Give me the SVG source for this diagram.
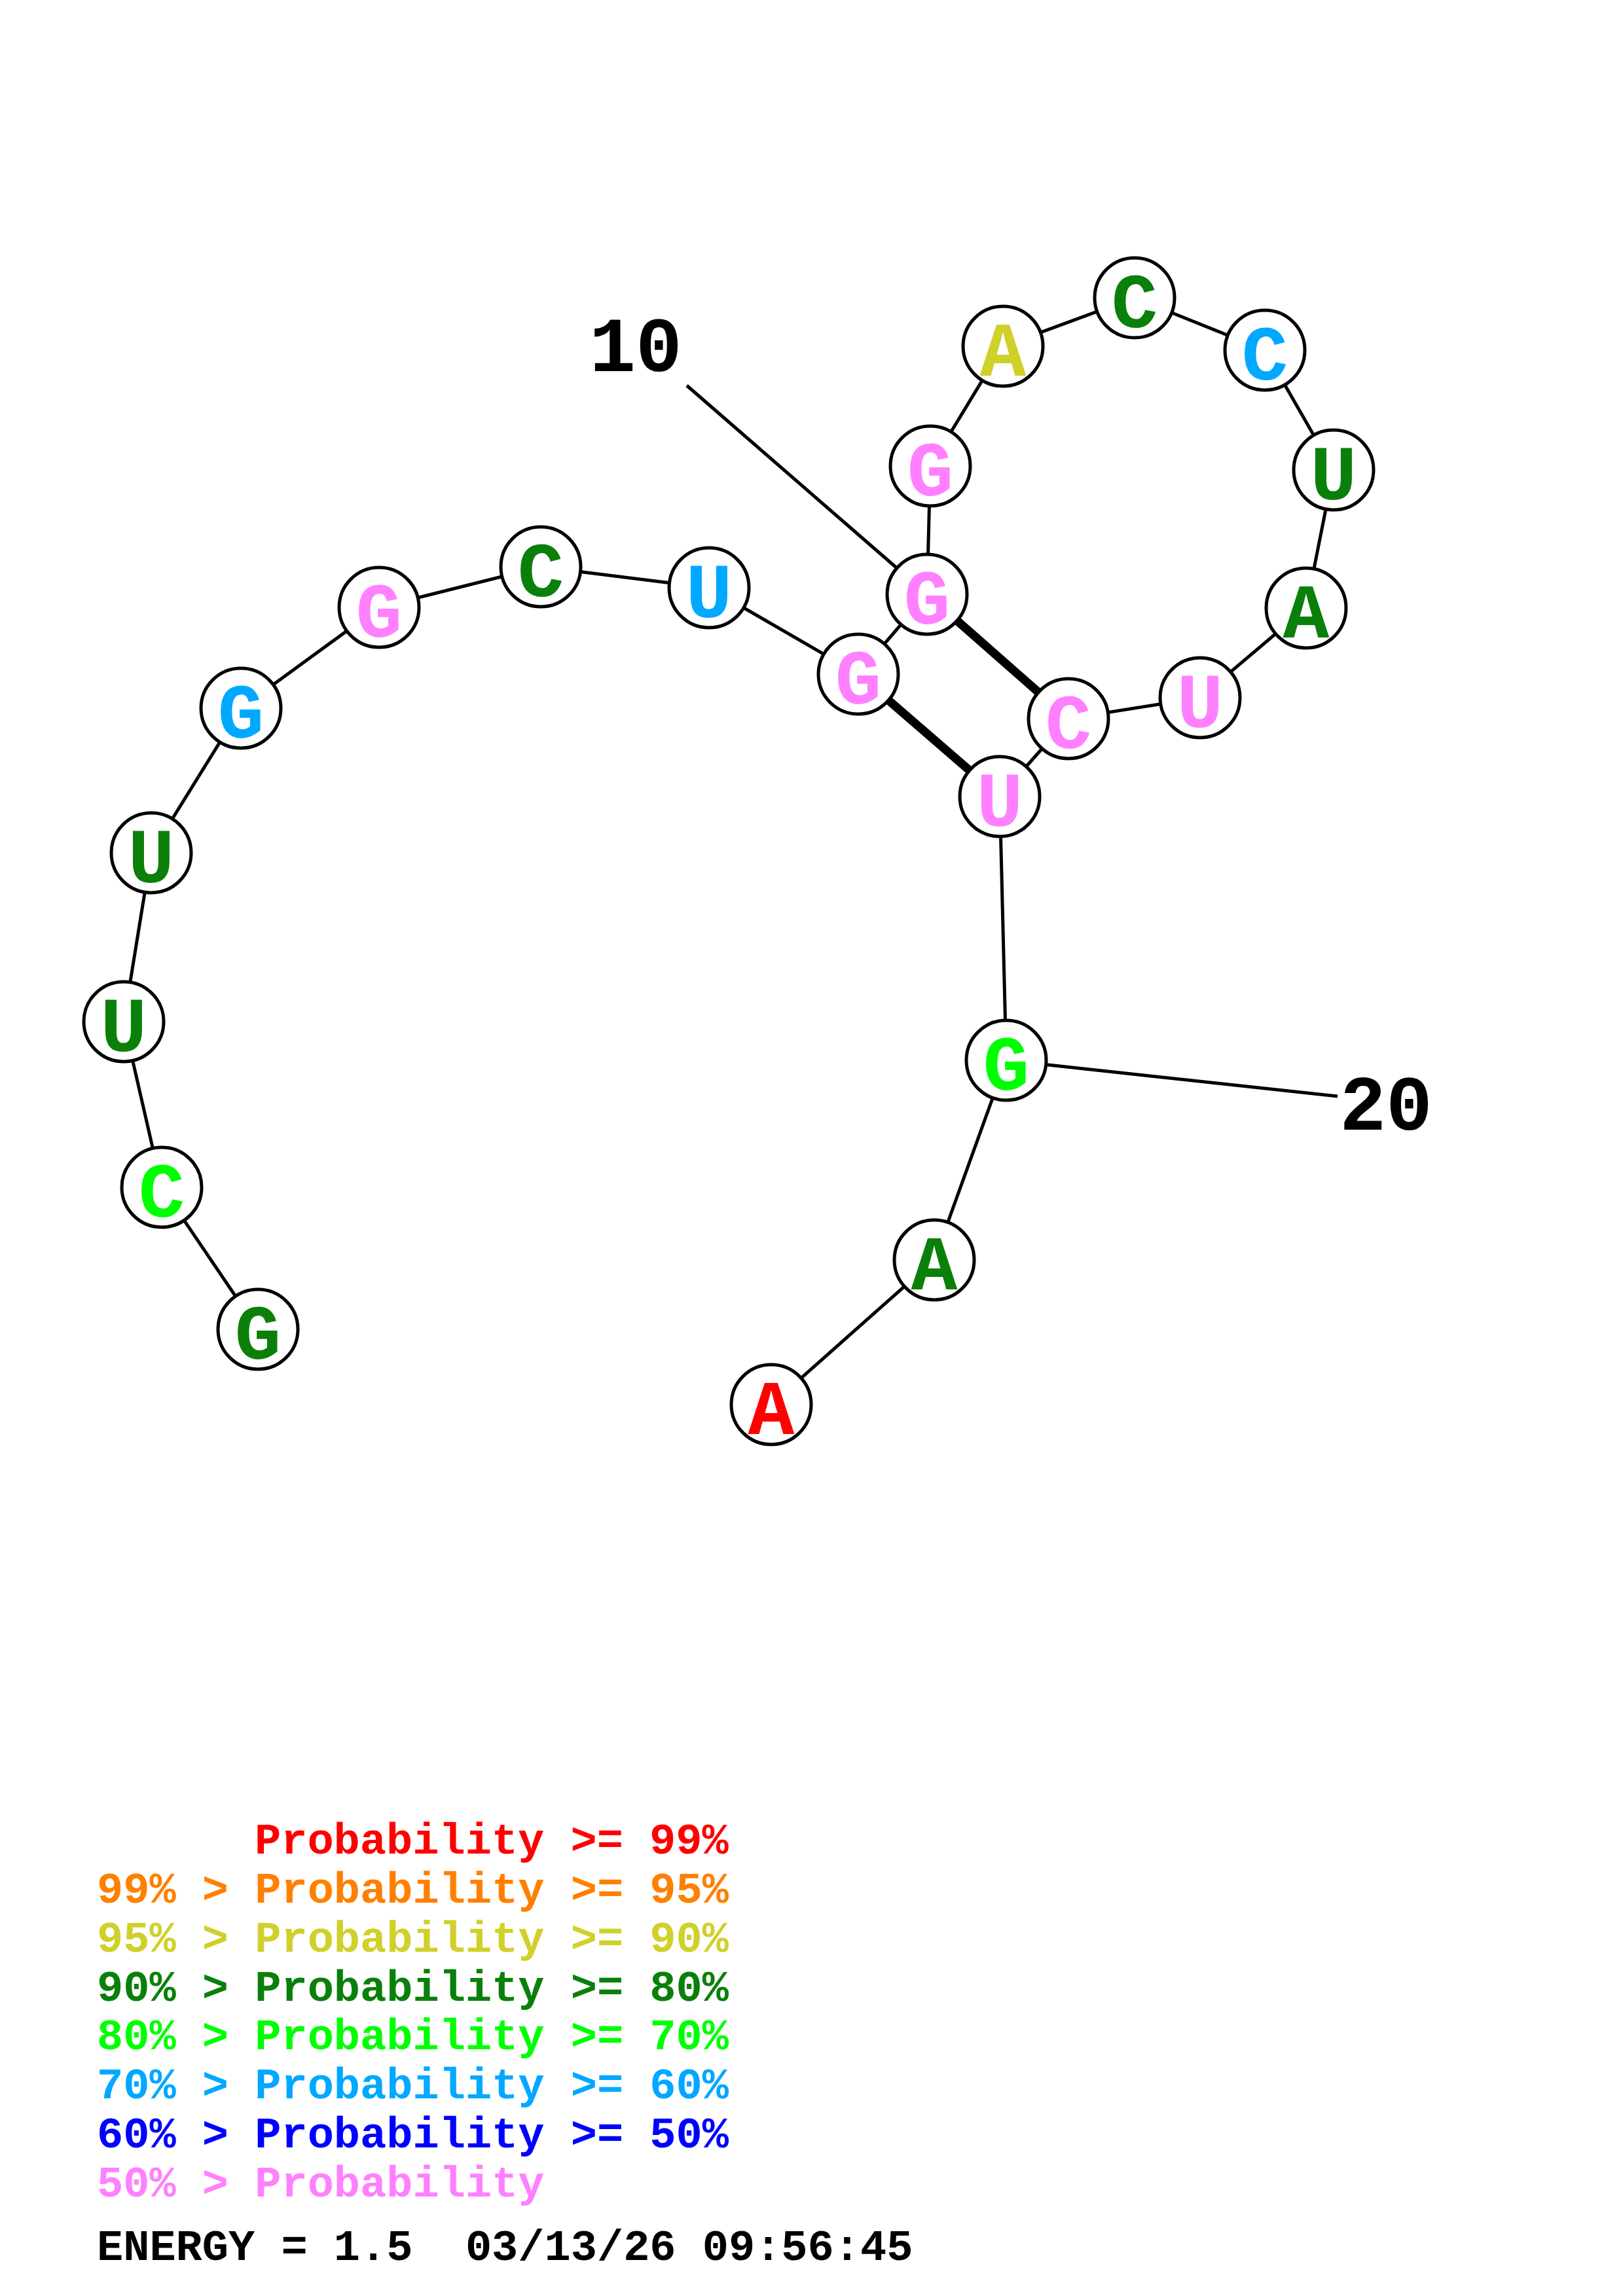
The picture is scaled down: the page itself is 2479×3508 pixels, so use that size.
<svg xmlns="http://www.w3.org/2000/svg" width="2479" height="3508" viewBox="0 0 2479 3508">
<style>
.bb{stroke:#000;stroke-width:5;fill:none}
.pr{stroke:#000;stroke-width:13;fill:none}
.nc{fill:#fff;stroke:#000;stroke-width:5}
.nt{font-family:"Liberation Mono","DejaVu Sans Mono",monospace;font-weight:bold;font-size:118px;text-anchor:middle}
.lb{font-family:"Liberation Mono","DejaVu Sans Mono",monospace;font-weight:bold;font-size:118px;text-anchor:middle;fill:#000}
.lg{font-family:"Liberation Mono","DejaVu Sans Mono",monospace;font-weight:bold;font-size:67px}
.red{fill:#FF0000}.ora{fill:#FF8000}.yel{fill:#D0D02A}.dgr{fill:#0A800A}.lgr{fill:#00FF00}.lbl{fill:#00A8FF}.blu{fill:#0000FF}.pnk{fill:#FF80FF}.blk{fill:#000}
</style>
<rect width="2479" height="3508" fill="#fff"/>
<g id="connectors">
<polyline class="bb" points="394,2031 247,1814 189,1561 231,1303 368,1082 579,928 826,866 1083,898 1311,1030 1416,908 1421,712 1532,529 1733,455 1932,535 2037,718 1995,929 1833,1066 1632,1098 1527,1217 1537,1620 1427,1925 1178,2146"/>
<line class="pr" x1="1311" y1="1030" x2="1527" y2="1217"/>
<line class="pr" x1="1416" y1="908" x2="1632" y2="1098"/>
<line class="bb" x1="1049" y1="589" x2="1416" y2="908"/>
<line class="bb" x1="1537" y1="1620" x2="2043" y2="1675"/>
</g>
<g id="n1"><circle class="nc" cx="394" cy="2031" r="61"/><text class="nt dgr" x="394" y="2076">G</text></g>
<g id="n2"><circle class="nc" cx="247" cy="1814" r="61"/><text class="nt lgr" x="247" y="1859">C</text></g>
<g id="n3"><circle class="nc" cx="189" cy="1561" r="61"/><text class="nt dgr" x="189" y="1606">U</text></g>
<g id="n4"><circle class="nc" cx="231" cy="1303" r="61"/><text class="nt dgr" x="231" y="1348">U</text></g>
<g id="n5"><circle class="nc" cx="368" cy="1082" r="61"/><text class="nt lbl" x="368" y="1127">G</text></g>
<g id="n6"><circle class="nc" cx="579" cy="928" r="61"/><text class="nt pnk" x="579" y="973">G</text></g>
<g id="n7"><circle class="nc" cx="826" cy="866" r="61"/><text class="nt dgr" x="826" y="911">C</text></g>
<g id="n8"><circle class="nc" cx="1083" cy="898" r="61"/><text class="nt lbl" x="1083" y="943">U</text></g>
<g id="n9"><circle class="nc" cx="1311" cy="1030" r="61"/><text class="nt pnk" x="1311" y="1075">G</text></g>
<g id="n10"><circle class="nc" cx="1416" cy="908" r="61"/><text class="nt pnk" x="1416" y="953">G</text></g>
<g id="n11"><circle class="nc" cx="1421" cy="712" r="61"/><text class="nt pnk" x="1421" y="757">G</text></g>
<g id="n12"><circle class="nc" cx="1532" cy="529" r="61"/><text class="nt yel" x="1532" y="574">A</text></g>
<g id="n13"><circle class="nc" cx="1733" cy="455" r="61"/><text class="nt dgr" x="1733" y="500">C</text></g>
<g id="n14"><circle class="nc" cx="1932" cy="535" r="61"/><text class="nt lbl" x="1932" y="580">C</text></g>
<g id="n15"><circle class="nc" cx="2037" cy="718" r="61"/><text class="nt dgr" x="2037" y="763">U</text></g>
<g id="n16"><circle class="nc" cx="1995" cy="929" r="61"/><text class="nt dgr" x="1995" y="974">A</text></g>
<g id="n17"><circle class="nc" cx="1833" cy="1066" r="61"/><text class="nt pnk" x="1833" y="1111">U</text></g>
<g id="n18"><circle class="nc" cx="1632" cy="1098" r="61"/><text class="nt pnk" x="1632" y="1143">C</text></g>
<g id="n19"><circle class="nc" cx="1527" cy="1217" r="61"/><text class="nt pnk" x="1527" y="1262">U</text></g>
<g id="n20"><circle class="nc" cx="1537" cy="1620" r="61"/><text class="nt lgr" x="1537" y="1665">G</text></g>
<g id="n21"><circle class="nc" cx="1427" cy="1925" r="61"/><text class="nt dgr" x="1427" y="1970">A</text></g>
<g id="n22"><circle class="nc" cx="1178" cy="2146" r="61"/><text class="nt red" x="1178" y="2191">A</text></g>
<g id="labels">
<text class="lb" x="971" y="567">10</text>
<text class="lb" x="2117" y="1726">20</text>
</g>
<g id="legend">
<text class="lg red" x="389" y="2832">Probability &gt;= 99%</text>
<text class="lg ora" x="148" y="2907">99% &gt; Probability &gt;= 95%</text>
<text class="lg yel" x="148" y="2982">95% &gt; Probability &gt;= 90%</text>
<text class="lg dgr" x="148" y="3057">90% &gt; Probability &gt;= 80%</text>
<text class="lg lgr" x="148" y="3131">80% &gt; Probability &gt;= 70%</text>
<text class="lg lbl" x="148" y="3206">70% &gt; Probability &gt;= 60%</text>
<text class="lg blu" x="148" y="3281">60% &gt; Probability &gt;= 50%</text>
<text class="lg pnk" x="148" y="3356">50% &gt; Probability</text>
<text class="lg blk" x="148" y="3453" xml:space="preserve">ENERGY = 1.5  03/13/26 09:56:45</text>
</g>
</svg>
